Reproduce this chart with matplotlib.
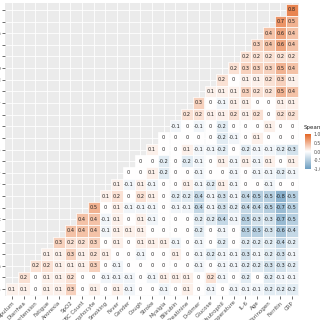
import numpy as np
import matplotlib
matplotlib.use("Agg")
from matplotlib import pyplot as plt
from matplotlib.colors import LinearSegmentedColormap, Normalize
from matplotlib.patches import Rectangle

xlabels = ["Sputum", "Diarrhea", "Hypertension", "Fatigue", "Anorexia", "SpO2",
           "WBC Count", "Lymphocyte", "Smoking", "Fever", "Gender", "Cough",
           "Stroke", "Myalgia", "Bilirubin", "Creatinine", "D-dimer", "Glucose",
           "Neutrophil", "Temperature", "IL-6", "Age", "Fibrinogen", "Ferritin", "CRP"]
# y labels, top to bottom (mostly cut off at the left edge)
ylabels = ["Procalcitonin", "Ferritin", "Fibrinogen", "Age", "IL-6", "Temperature",
           "Neutrophil", "Glucose", "D-dimer", "Creatinine", "Bilirubin", "Myalgia",
           "Stroke", "Cough", "Gender", "Fever", "Smoking", "Lymphocyte", "WBC Count",
           "SpO2", "Anorexia", "Fatigue", "Hypertension", "Diarrhea", "Sputum"]

# row r (from top) holds the values of the last r+1 columns
rows = [
    [0.8],
    [0.7, 0.5],
    [0.4, 0.6, 0.4],
    [0.3, 0.4, 0.6, 0.4],
    [0.2, 0.2, 0.2, 0.2, 0.2],
    [0.2, 0.3, 0.3, 0.3, 0.5, 0.4],
    [0.2, 0, 0.1, 0.1, 0.2, 0.3, 0.1],
    [0.1, 0.1, 0.1, 0.3, 0.2, 0.2, 0.5, 0.4],
    [0.3, 0, -0.1, 0.1, 0.1, 0, 0, 0.1, 0.1],
    [0.2, 0.2, 0.1, 0.1, 0.2, 0.1, 0.2, 0, 0.2, 0.2],
    [-0.1, 0, -0.1, 0, -0.2, 0, 0, 0, 0.1, 0, 0],
    [0, 0, 0, 0, 0, -0.2, -0.1, 0, 0.1, 0, 0, 0],
    [0.1, 0, 0, 0.1, -0.1, -0.1, -0.2, 0, -0.2, -0.1, -0.1, -0.2, -0.3],
    [0, 0, -0.2, 0, -0.2, -0.1, 0, 0.1, -0.1, 0.1, -0.1, 0.1, 0, 0.1],
    [0, 0, 0.1, -0.2, 0, 0, -0.1, 0, 0, -0.1, 0, -0.1, -0.1, -0.2, -0.1],
    [0.1, -0.1, 0.1, -0.1, 0, 0, 0.1, -0.1, -0.2, 0.1, -0.1, 0, 0, -0.1, 0, 0],
    [0.1, 0.2, 0, 0.2, 0.1, 0, -0.2, -0.2, -0.4, -0.1, -0.3, -0.1, -0.4, -0.5, -0.5, -0.8, -0.5],
    [0.5, 0, 0.1, -0.1, -0.1, -0.1, 0, -0.1, -0.1, -0.4, -0.1, -0.3, -0.2, -0.4, -0.4, -0.5, -0.7, -0.5],
    [0.4, 0.4, -0.1, 0.1, 0, 0.1, -0.1, 0, 0, 0, -0.2, -0.2, -0.4, -0.1, -0.5, -0.3, -0.3, -0.7, -0.5],
    [0.4, 0.4, 0.4, -0.1, 0.1, 0.1, 0.1, 0, 0, 0, 0, -0.2, 0, -0.1, 0, -0.5, -0.5, -0.3, -0.6, -0.4],
    [0.3, 0.2, 0.2, 0.3, 0, 0.1, 0, 0.1, 0.1, 0.1, -0.1, 0, -0.1, 0, -0.2, 0, -0.2, -0.2, -0.2, -0.4, -0.2],
    [0.1, 0.1, 0.3, 0.1, 0.2, 0.1, 0, 0, -0.1, 0, 0, 0.1, 0, -0.1, -0.2, -0.1, -0.1, -0.3, -0.1, -0.2, -0.3, -0.1],
    [0.2, 0.2, 0.1, 0.1, 0.1, 0.3, 0, -0.1, 0, 0, 0, 0, 0, 0, -0.1, 0, -0.1, -0.1, -0.2, -0.2, -0.3, -0.3, -0.2],
    [0.2, 0, 0.1, 0.1, 0.2, 0, 0, -0.1, -0.1, -0.1, 0, -0.1, 0.1, 0.1, 0.1, 0, 0.2, -0.1, 0, -0.2, 0, -0.2, -0.1, -0.1],
    [0.1, 0.1, 0, 0.1, 0.1, 0.3, 0, 0.1, 0, 0.1, -0.1, 0, 0, -0.1, 0, 0.1, 0, -0.1, 0, -0.1, -0.1, -0.1, -0.2, -0.2, -0.2],
]

n = len(xlabels)
cmap = LinearSegmentedColormap.from_list("corr", ["#6D9EC1", "white", "#E46726"])
norm = Normalize(-1, 1)

fig = plt.figure(figsize=(3.2, 3.2), dpi=100)
ax = fig.add_axes([5 / 320, 24 / 320, 294 / 320, 293 / 320])
ax.set_facecolor("#EBEBEB")
for s in ax.spines.values():
    s.set_visible(False)
ax.set_xticks(range(n))
ax.set_yticks(range(n))
ax.grid(True, color="white", lw=0.6)
ax.set_axisbelow(True)

for r, vals in enumerate(rows):
    start = n - len(vals)
    for k, v in enumerate(vals):
        c = start + k
        ax.add_patch(Rectangle((c - 0.5, r - 0.5), 1, 1, facecolor=cmap(norm(v)),
                               edgecolor="white", lw=0.5, zorder=2))
        ax.text(c, r, f"{v:g}", ha="center", va="center", fontsize=3.6,
                color="#222222", zorder=3)

ax.set_xlim(-0.6, n - 0.4)
ax.set_ylim(n - 0.4, -0.6)
ax.set_xticklabels(xlabels, rotation=45, ha="right", va="top", rotation_mode="anchor")
ax.set_yticklabels(ylabels)
ax.tick_params(length=2, width=0.5, color="#333333", labelsize=4.0,
               labelcolor="#4D4D4D", pad=1)

# legend colour bar
cax = fig.add_axes([305 / 320, 151 / 320, 6 / 320, 35 / 320])
grad = np.linspace(1, -1, 100).reshape(-1, 1)
cax.imshow(grad, cmap=cmap, norm=norm, aspect="auto", extent=[0, 1, -1, 1])
cax.set_xticks([])
cax.yaxis.tick_right()
cax.set_yticks([1, 0.5, 0, -0.5, -1])
cax.set_yticklabels(["1.0", "0.5", "0.0", "-0.5", "-1.0"])
cax.tick_params(length=1, width=0.4, color="white", labelsize=3.3,
                labelcolor="#4D4D4D", pad=1)
for s in cax.spines.values():
    s.set_visible(False)
fig.text(304 / 320, 1 - 128 / 320, "Spearman", fontsize=4.0, color="#222222",
         ha="left", va="center")

fig.savefig("out.png", dpi=100)
